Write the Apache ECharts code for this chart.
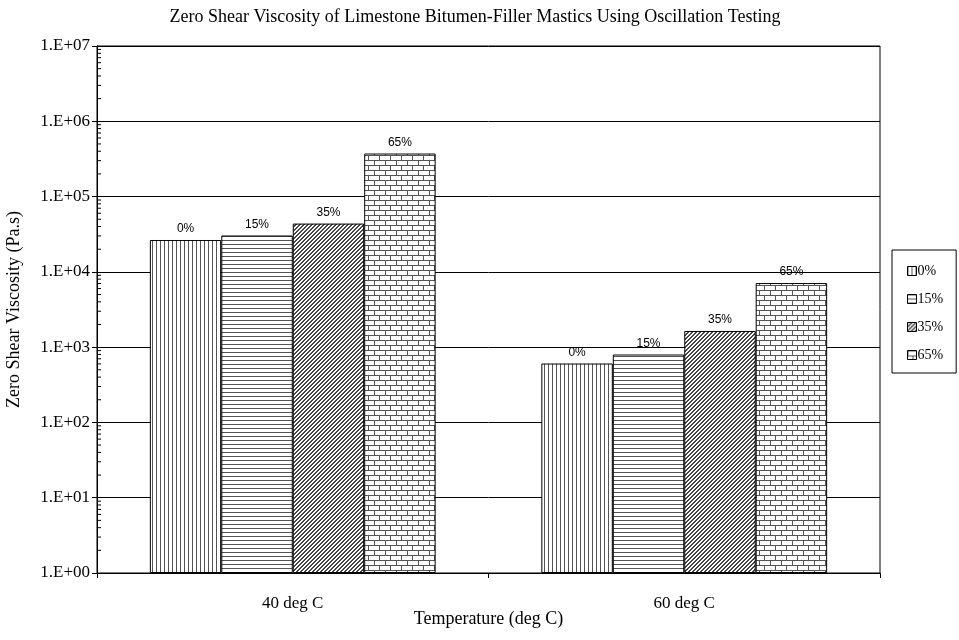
<!DOCTYPE html>
<html>
<head>
<meta charset="utf-8">
<script src="https://cdn.jsdelivr.net/npm/echarts@6/dist/echarts.min.js"></script>
<style>
html,body{margin:0;padding:0;background:#fff;}
#chart{width:959px;height:640px;}
</style>
</head>
<body>
<div id="chart"></div>
<script>
// ---- data ----
const categories = ['40 deg C', '60 deg C'];
const seriesNames = ['0%', '15%', '35%', '65%'];
const values0 = [26500, 606];
const values15 = [30400, 798];
const values35 = [43800, 1640];
const values65 = [373000, 7100];

// ---- patterns ----
function makeCanvas(w, h, draw) {
  const c = document.createElement('canvas');
  c.width = w; c.height = h;
  const ctx = c.getContext('2d');
  ctx.fillStyle = '#fff';
  ctx.fillRect(0, 0, w, h);
  draw(ctx);
  return c;
}
const lineCol = '#555';
const patVertical = makeCanvas(4, 4, ctx => { ctx.fillStyle = lineCol; ctx.fillRect(0, 0, 1, 4); });
const patHorizontal = makeCanvas(4, 4, ctx => { ctx.fillStyle = lineCol; ctx.fillRect(0, 0, 4, 1); });
const patDiagonal = makeCanvas(4, 4, ctx => {
  ctx.fillStyle = '#444';
  for (let i = 0; i < 4; i++) {
    ctx.fillRect(i, 3 - i, 1, 1);
    ctx.fillRect((i + 1) % 4, 3 - i, 1, 1);
  }
});
const patBrick = makeCanvas(11, 10, ctx => {
  ctx.fillStyle = lineCol;
  ctx.fillRect(0, 0, 11, 1);
  ctx.fillRect(0, 5, 11, 1);
  ctx.fillRect(0, 1, 1, 4);
  ctx.fillRect(5, 6, 1, 4);
});
const patterns = [patVertical, patHorizontal, patDiagonal, patBrick];
const seriesValues = [values0, values15, values35, values65];

// minor tick positions for the log axis (2..9 per decade)
const minorTicks = [];
for (let k = 0; k < 7; k++) for (let m = 2; m <= 9; m++) minorTicks.push([0, m * Math.pow(10, k)]);

const chart = echarts.init(document.getElementById('chart'));
const serif = '"Liberation Serif", "Times New Roman", serif';
const sans = '"Liberation Sans", Arial, sans-serif';

const barSeries = seriesNames.map((name, i) => ({
  name: name,
  type: 'bar',
  data: seriesValues[i],
  barGap: '0%',
  barCategoryGap: '27%',
  itemStyle: {
    color: { image: patterns[i], repeat: 'repeat' },
    borderColor: '#000',
    borderWidth: 1
  },
  label: {
    show: true,
    position: 'top',
    distance: 5,
    formatter: name,
    color: '#000',
    fontFamily: sans,
    fontSize: 12
  },
  emphasis: { disabled: true }
}));

const option = {
  backgroundColor: '#fff',
  animation: false,
  title: {
    text: 'Zero Shear Viscosity of Limestone Bitumen-Filler Mastics Using Oscillation Testing',
    left: 470,
    textAlign: 'center',
    top: 3,
    textStyle: { fontFamily: serif, fontSize: 18, fontWeight: 'normal', color: '#000' }
  },
  legend: {
    data: seriesNames,
    orient: 'vertical',
    left: 892,
    top: 250,
    itemWidth: 9,
    itemHeight: 9,
    itemGap: 14,
    padding: [14, 13, 11, 15],
    borderColor: '#000',
    borderWidth: 1,
    icon: 'rect',
    textStyle: { fontFamily: serif, fontSize: 14, color: '#000', padding: [0, 0, 0, -4] },
    itemStyle: { borderColor: '#000', borderWidth: 1 }
  },
  grid: {
    left: 97, right: 79, top: 46, bottom: 67,
    outerBoundsMode: 'none',
    containLabel: false,
    show: true, borderColor: '#000', borderWidth: 1
  },
  xAxis: {
    type: 'category',
    data: categories,
    name: 'Temperature (deg C)',
    nameLocation: 'middle',
    nameGap: 37,
    nameMoveOverlap: false,
    nameTextStyle: { fontFamily: serif, fontSize: 18, color: '#000' },
    axisLine: { lineStyle: { color: '#000', width: 1 } },
    axisTick: { show: true, length: 5, alignWithLabel: false, lineStyle: { color: '#000' } },
    axisLabel: { fontFamily: serif, fontSize: 17, color: '#000', margin: 22 }
  },
  yAxis: {
    type: 'log',
    logBase: 10,
    min: 1,
    max: 1e7,
    splitNumber: 7,
    name: 'Zero Shear Viscosity (Pa.s)',
    nameLocation: 'middle',
    nameGap: 74,
    nameMoveOverlap: false,
    nameTextStyle: { fontFamily: serif, fontSize: 18, color: '#000' },
    axisLine: { show: true, lineStyle: { color: '#000', width: 1 } },
    axisTick: { show: true, length: 5, lineStyle: { color: '#000' } },
    splitLine: { show: true, lineStyle: { color: '#000', width: 1 } },
    axisLabel: {
      fontFamily: serif, fontSize: 17, color: '#000', margin: 7,
      formatter: v => {
        const e = Math.round(Math.log10(v));
        return '1.E+' + (e < 10 ? '0' + e : e);
      }
    }
  },
  series: barSeries.concat([{
    type: 'custom',
    name: 'minorTicks',
    data: minorTicks,
    silent: true,
    z: 5,
    clip: false,
    renderItem: (params, api) => {
      const p = api.coord([0, api.value(1)]);
      const x0 = params.coordSys.x;
      return {
        type: 'line',
        shape: { x1: x0, y1: p[1], x2: x0 + 4, y2: p[1] },
        style: { stroke: '#000', lineWidth: 1 }
      };
    }
  }])
};
chart.setOption(option);
</script>
</body>
</html>
